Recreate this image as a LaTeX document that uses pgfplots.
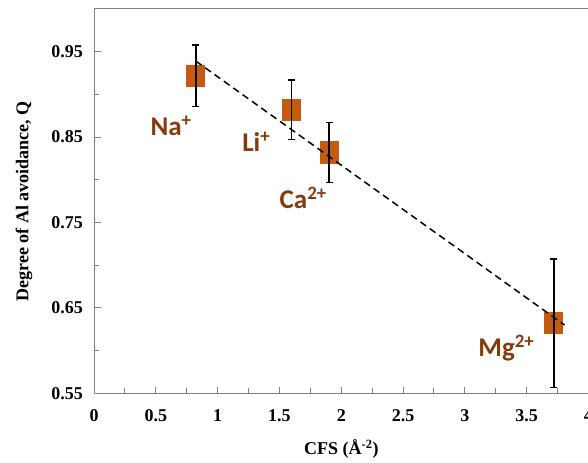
\documentclass[border=0pt]{standalone}
\usepackage{fontspec}
\setmainfont{Liberation Serif}
\newfontfamily\calibri{Carlito}
\usepackage{pgfplots}
\pgfplotsset{compat=1.18}
\definecolor{mkorange}{HTML}{C55A11}
\definecolor{lbbrown}{HTML}{843C0C}
\definecolor{axgray}{HTML}{808080}
\begin{document}
\begin{tikzpicture}
\begin{axis}[
  at={(0,0)}, anchor=south west,
  scale only axis, width=494pt, height=384pt,
  set layers, mark layer=axis background,
  xmin=0, xmax=4, ymin=0.55, ymax=1.0,
  xtick={0,0.5,...,4}, minor xtick={0.25,0.75,...,3.75},
  ytick={0.55,0.65,0.75,0.85,0.95}, minor ytick={0.6,0.7,0.8,0.9},
  xticklabels={0,0.5,1,1.5,2,2.5,3,3.5,4},
  yticklabels={0.55,0.65,0.75,0.85,0.95},
  tick align=inside, xtick pos=bottom, ytick pos=left,
  major tick length=6.5pt, minor tick length=5pt,
  axis line style={axgray, line width=1pt},
  every tick/.style={axgray, line width=1pt},
  every minor tick/.style={axgray, line width=1pt},
  ticklabel style={font=\fontsize{18}{20}\selectfont\bfseries, inner sep=0pt, text=black},
  xticklabel style={anchor=center, yshift=-22pt},
  yticklabel style={anchor=east, xshift=-11pt},
  /pgf/number format/assume math mode=true,
  every axis x label/.style={at={(axis description cs:0.5,0)}, yshift=-56pt, anchor=center},
  every axis y label/.style={at={(axis description cs:0,0.5)}, xshift=-70pt, rotate=90, anchor=center},
  label style={font=\fontsize{18}{20}\selectfont\bfseries},
  xlabel={CFS (Å\textsuperscript{-2})},
  ylabel={Degree of Al avoidance, Q},
  clip=false,
]
\addplot[draw=none, mark=square*, mark size=9pt, mark options={draw=mkorange, fill=mkorange, line width=0pt, yscale=1.17}]
  coordinates {(0.823,0.922) (1.598,0.882) (1.903,0.832) (3.72,0.632)};
\addplot[black, line width=1.5pt, dash pattern=on 7pt off 4.5pt, mark=none]
  coordinates {(0.823,0.939) (3.806,0.630)};
\addplot[draw=none, mark=none,
  error bars/.cd, y dir=both, y explicit,
  error bar style={draw=black, solid, line width=1.6pt},
  error mark options={rotate=90, mark size=3.5pt, draw=black, line width=1.6pt}]
  coordinates {(0.823,0.922) +- (0,0.036)
               (1.598,0.882) +- (0,0.035)
               (1.903,0.832) +- (0,0.035)
               (3.72,0.632) +- (0,0.075)};
\node[text=lbbrown, font=\fontsize{27}{30}\selectfont\calibri\bfseries] at (axis cs:0.623,0.863) {Na\textsuperscript{+}};
\node[text=lbbrown, font=\fontsize{27}{30}\selectfont\calibri\bfseries] at (axis cs:1.312,0.845) {Li\textsuperscript{+}};
\node[text=lbbrown, font=\fontsize{27}{30}\selectfont\calibri\bfseries] at (axis cs:1.692,0.779) {Ca\textsuperscript{2+}};
\node[text=lbbrown, font=\fontsize{27}{30}\selectfont\calibri\bfseries] at (axis cs:3.336,0.603) {Mg\textsuperscript{2+}};
\end{axis}
\pgfresetboundingbox
\useasboundingbox (-94pt,-69pt) rectangle (493.5pt,393pt);
\end{tikzpicture}
\end{document}
